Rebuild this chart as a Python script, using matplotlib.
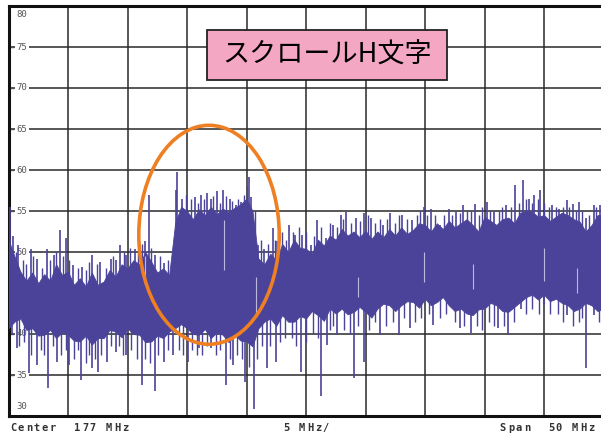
import numpy as np
import matplotlib
matplotlib.use('Agg')
from matplotlib import pyplot as plt
from matplotlib.patches import Ellipse, Rectangle

# 周波数 (MHz) と包絡線 (dB), 0.5 MHz 刻み
freq = np.arange(152, 202.01, 0.5)
body_top = [51.5, 49.5, 47.6, 46.5, 47.5, 46.2, 47.3, 46.5, 48.5, 47.2,
            47.6, 46.0, 46.8, 45.8, 47.5, 46.0, 46.4, 47.8, 47.0, 48.5,
            48.0, 49.0, 48.5, 50.0, 48.8, 47.5, 48.0, 47.2, 53.5, 55.5,
            55.0, 54.0, 55.2, 54.5, 55.5, 54.6, 55.3, 54.8, 55.4, 55.8,
            56.5, 55.0, 49.2, 48.5, 49.8, 49.0, 51.0, 50.0, 51.5, 50.5,
            50.4, 49.8, 51.5, 50.8, 52.0, 51.5, 52.8, 52.0, 52.5, 51.8,
            52.6, 51.6, 52.5, 51.8, 52.8, 52.0, 53.0, 52.2, 52.7, 53.5,
            53.3, 52.5, 53.5, 52.8, 53.8, 53.0, 53.5, 54.0, 53.3, 52.5,
            54.3, 53.8, 53.3, 54.0, 54.2, 53.5, 54.8, 55.0, 54.9, 54.3,
            54.5, 53.8, 54.3, 54.8, 54.5, 54.0, 53.7, 52.5, 53.3, 54.5, 54.5]
body_bottom = [40.7, 41.5, 41.9, 40.5, 40.7, 39.8, 39.9, 40.5, 39.5, 40.2,
               39.9, 39.2, 39.1, 39.8, 38.7, 39.5, 39.5, 40.5, 40.3, 39.6,
               40.7, 40.0, 39.9, 39.0, 39.1, 39.8, 39.5, 40.3, 40.7, 41.2,
               40.7, 40.0, 39.9, 40.6, 39.5, 40.2, 39.9, 39.0, 39.9, 39.2,
               39.1, 38.5, 40.7, 41.5, 41.9, 41.0, 42.3, 41.5, 41.5, 42.2,
               41.9, 42.8, 42.3, 41.6, 43.1, 42.5, 43.1, 42.4, 42.7, 43.3,
               42.7, 42.0, 43.1, 43.7, 43.5, 42.8, 43.5, 44.0, 43.9, 43.2,
               44.3, 43.5, 43.9, 44.5, 43.5, 42.8, 43.1, 42.5, 42.3, 43.0,
               43.1, 43.8, 43.5, 42.8, 42.7, 43.3, 43.9, 44.5, 44.8, 44.2,
               44.8, 44.0, 44.3, 43.8, 43.5, 42.8, 43.1, 43.8, 43.5, 42.8, 43.1]

# 大きいスパイク (上向き / 下向き)
up_f = [152.1, 152.4, 152.8, 153.9, 154.4, 155.2, 155.8, 156.3, 156.8, 157.4,
        158.2, 159.0, 159.7, 160.6, 161.0, 161.4, 161.9, 162.6, 163.5, 163.8,
        164.3, 165.1, 166.1, 166.2, 166.6, 167.7, 168.2, 168.7, 169.0, 169.5,
        170.0, 170.6, 171.1, 171.5, 172.2, 172.4, 173.0, 173.5, 174.2, 174.6,
        175.6, 176.1, 176.7, 177.4, 177.9, 178.7, 179.3, 179.9, 180.4, 181.2,
        181.9, 182.5, 183.5, 184.1, 185.1, 185.9, 186.9, 187.5, 188.3, 189.0,
        189.6, 190.2, 191.2, 192.2, 192.8, 193.8, 194.6, 195.2, 195.7, 196.2,
        196.7, 197.7, 198.3, 198.9, 199.4, 199.9, 200.5, 201.2, 201.7]
up_db = [55.5, 51.9, 50.9, 50.4, 49.2, 50.4, 49.6, 52.7, 51.7, 48.4,
         48.2, 49.6, 48.8, 49.2, 49.0, 50.9, 49.6, 50.4, 51.3, 57.0,
         49.6, 48.6, 57.6, 59.8, 56.5, 56.7, 57.0, 57.2, 56.5, 57.4,
         57.6, 56.5, 55.7, 56.1, 59.2, 56.7, 50.9, 50.4, 52.9, 51.3,
         53.3, 52.1, 52.1, 50.9, 53.9, 51.7, 53.3, 54.5, 54.9, 54.1,
         54.7, 54.1, 53.3, 54.7, 54.5, 53.9, 55.5, 55.3, 53.3, 55.3,
         54.9, 55.7, 55.9, 56.1, 54.9, 55.7, 58.2, 58.8, 56.5, 57.0,
         57.6, 55.7, 55.3, 56.3, 55.9, 56.1, 54.1, 55.7, 55.7]
down_f = [152.3, 152.7, 153.7, 154.4, 155.3, 156.1, 157.1, 158.1, 159.0, 159.5,
          160.3, 161.0, 161.9, 163.2, 164.3, 165.1, 165.8, 167.1, 168.0, 169.0,
          170.3, 170.9, 171.9, 172.6, 173.7, 174.5, 176.6, 178.3, 178.8, 179.6,
          181.0, 181.9, 183.2, 184.8, 185.7, 187.7, 189.9, 190.9, 193.1, 194.0,
          195.1, 197.0, 198.9, 200.5, 201.2]
down_db = [39.9, 38.3, 35.2, 36.2, 33.4, 36.6, 36.2, 34.4, 35.8, 35.4,
           36.6, 37.8, 37.4, 33.8, 33.0, 36.6, 37.4, 36.6, 38.3, 38.3,
           33.8, 36.2, 34.2, 30.9, 35.8, 36.6, 35.4, 32.4, 38.7, 39.9,
           34.6, 36.6, 39.9, 39.9, 40.7, 41.1, 40.7, 40.1, 40.7, 39.9,
           43.1, 43.5, 42.3, 35.8, 42.3]

# 小さいスパイク
up2_f = [152.6, 153.2, 153.5, 154.1, 154.8, 155.5, 156.0, 156.6, 157.1, 157.8,
         158.5, 158.8, 159.4, 160.2, 160.8, 161.7, 162.2, 162.9, 163.2, 164.0,
         164.7, 165.4, 165.8, 166.9, 167.3, 167.9, 168.4, 169.2, 169.8, 170.3,
         170.8, 171.3, 171.8, 172.0, 172.7, 173.2, 173.8, 174.4, 175.0, 175.3,
         175.9, 176.4, 177.0, 177.7, 178.3, 179.0, 179.6, 180.1, 180.8, 181.5,
         182.2, 182.8, 183.2, 183.8, 184.5, 184.8, 185.5, 186.3, 186.6, 187.2,
         187.8, 188.6, 189.3, 189.9, 190.5, 190.9, 191.5, 191.8, 192.5, 193.2,
         193.5, 194.2, 194.9, 195.5, 196.0, 196.5, 197.0, 197.4, 198.0, 198.6,
         199.1, 199.7, 200.2, 200.8, 201.4, 201.9]
up2_db = [50.0, 49.0, 48.5, 49.5, 48.0, 49.0, 50.0, 49.5, 49.0, 48.0,
          47.8, 48.8, 48.5, 48.0, 49.5, 50.0, 50.5, 50.0, 51.0, 50.5,
          49.5, 49.0, 50.0, 57.0, 56.5, 56.0, 56.5, 56.8, 56.0, 56.8,
          56.2, 56.5, 57.0, 58.0, 55.0, 51.5, 51.0, 51.5, 52.5, 51.5,
          52.5, 53.0, 52.5, 52.0, 53.0, 53.5, 53.0, 54.0, 53.5, 53.8,
          54.5, 53.5, 54.0, 54.0, 53.5, 54.5, 54.0, 54.5, 55.0, 54.5,
          54.5, 54.5, 54.5, 54.8, 55.0, 55.0, 54.5, 55.5, 55.0, 55.0,
          55.5, 55.5, 56.0, 56.5, 56.0, 56.5, 56.0, 55.5, 55.5, 55.5,
          55.5, 55.0, 55.0, 54.5, 55.5, 56.0]
down2_f = [152.9, 153.3, 153.9, 154.7, 155.0, 155.7, 156.4, 156.8, 157.5, 157.8,
           158.5, 158.8, 159.3, 159.8, 160.6, 161.3, 161.6, 162.3, 162.8, 163.5,
           163.9, 164.6, 165.4, 166.3, 166.7, 167.4, 167.8, 168.3, 168.7, 169.4,
           169.8, 170.6, 171.2, 171.6, 172.2, 172.9, 173.3, 174.0, 174.8, 175.2,
           175.8, 176.2, 177.0, 177.6, 178.0, 179.0, 179.3, 180.2, 180.7, 181.4,
           182.3, 182.8, 183.7, 184.3, 185.2, 186.2, 186.7, 187.3, 188.3, 188.8,
           189.5, 190.3, 191.4, 191.8, 192.4, 192.8, 193.6, 194.5, 195.5, 196.0,
           196.6, 197.5, 198.2, 198.6, 199.4, 199.9, 200.2, 201.6, 202.0]
down2_db = [38.5, 39.0, 37.5, 38.0, 37.5, 38.5, 37.5, 38.0, 37.0, 38.0,
            36.5, 37.5, 37.0, 37.5, 38.5, 38.5, 37.5, 38.0, 37.0, 37.0,
            36.5, 37.5, 38.0, 38.0, 37.5, 38.0, 37.5, 37.5, 38.5, 37.5,
            38.0, 37.0, 37.5, 37.0, 36.0, 37.0, 38.5, 38.5, 39.0, 39.5,
            39.5, 38.5, 39.0, 40.0, 39.5, 40.5, 41.0, 40.5, 40.0, 41.0,
            40.5, 41.5, 41.0, 41.5, 42.0, 41.5, 42.0, 42.5, 42.0, 42.5,
            41.5, 41.0, 41.0, 40.5, 41.5, 41.0, 41.0, 41.5, 42.5, 43.0,
            42.5, 42.5, 42.5, 41.5, 41.0, 41.5, 42.0, 41.5, 41.5]

# トレース内の明るい隙間
gap_f = [163.5, 170.1, 172.8, 181.4, 186.9, 191.0, 197.0, 199.8]
gap_lo = [46.0, 47.8, 42.5, 44.5, 46.4, 45.5, 46.5, 45.0]
gap_hi = [49.5, 53.9, 47.0, 47.0, 50.0, 48.5, 50.5, 48.0]

y_ticks = [75, 70, 65, 60, 55, 50, 45, 40, 35]
bottom_labels = ['Center  177 MHz', '5 MHz/', 'Span  50 MHz']
trace_color = '#4b4399'
gap_color = '#bcb7de'

fig = plt.figure(figsize=(6.01, 4.34), dpi=100)
ax = fig.add_axes([8.5 / 601, 18 / 434, 595 / 601, 410 / 434])
ax.set_xlim(152, 202)
ax.set_ylim(30, 80)

# グリッド
for f in range(157, 202, 5):
    ax.axvline(f, color='#2a2a2a', lw=1.1, zorder=1)
for y in y_ticks:
    ax.axhline(y, color='#2a2a2a', lw=1.1, zorder=1)

# 目盛ラベル (内側)
for y in y_ticks:
    ax.text(153.15, y, str(y), fontsize=6.5, family='DejaVu Sans Mono',
            color='#555555', ha='center', va='center', zorder=2,
            bbox=dict(facecolor='white', edgecolor='none', pad=1))
    ax.plot([152.05, 152.4], [y, y], color='#555555', lw=1, zorder=2)
ax.text(153.15, 79.0, '80', fontsize=6.5, family='DejaVu Sans Mono',
        color='#555555', ha='center', va='center')
ax.text(153.15, 31.2, '30', fontsize=6.5, family='DejaVu Sans Mono',
        color='#555555', ha='center', va='center')

# トレース
ax.fill_between(freq, body_bottom, body_top, color=trace_color, lw=0.6,
                edgecolor=trace_color, zorder=3)
ax.vlines(up_f, np.interp(up_f, freq, body_top) - 1, up_db,
          color=trace_color, lw=1.2, zorder=3)
ax.vlines(down_f, down_db, np.interp(down_f, freq, body_bottom) + 1,
          color=trace_color, lw=1.2, zorder=3)
ax.vlines(up2_f, np.interp(up2_f, freq, body_top) - 1, up2_db,
          color=trace_color, lw=1.0, zorder=3)
ax.vlines(down2_f, down2_db, np.interp(down2_f, freq, body_bottom) + 1,
          color=trace_color, lw=1.0, zorder=3)
ax.vlines(gap_f, gap_lo, gap_hi, color=gap_color, lw=0.8, zorder=4)

# 丸囲み
ax.add_patch(Ellipse((168.85, 52.1), 11.8, 26.7, fill=False,
                     edgecolor='#ee7f22', lw=2.6, zorder=5))

for side in ['left', 'top', 'bottom']:
    ax.spines[side].set_linewidth(2.2)
    ax.spines[side].set_color('#111111')
ax.spines['right'].set_visible(False)
ax.set_xticks([])
ax.set_yticks([])

# タイトルボックス
fig.patches.append(Rectangle((207 / 601, 1 - 80 / 434), 240 / 601, 50 / 434,
                             transform=fig.transFigure, facecolor='#f4a7c3',
                             edgecolor='#222222', lw=1.3, zorder=6))
fig.text(327 / 601, 1 - 55 / 434, 'スクロールH文字', fontsize=19.5,
         family=['Noto Sans CJK JP', 'DejaVu Sans'], ha='center', va='center',
         zorder=7)

# 下部テキスト (1文字ずつ 8px 間隔)
for label, x0 in zip(bottom_labels, [10, 283, 500]):
    for i, ch in enumerate(label):
        fig.text((x0 + 8 * i + 3) / 601, 6 / 434, ch, fontsize=7.5,
                 family='DejaVu Sans Mono', color='#333333',
                 ha='center', va='center', weight='bold')

plt.savefig('out.png', dpi=100)
